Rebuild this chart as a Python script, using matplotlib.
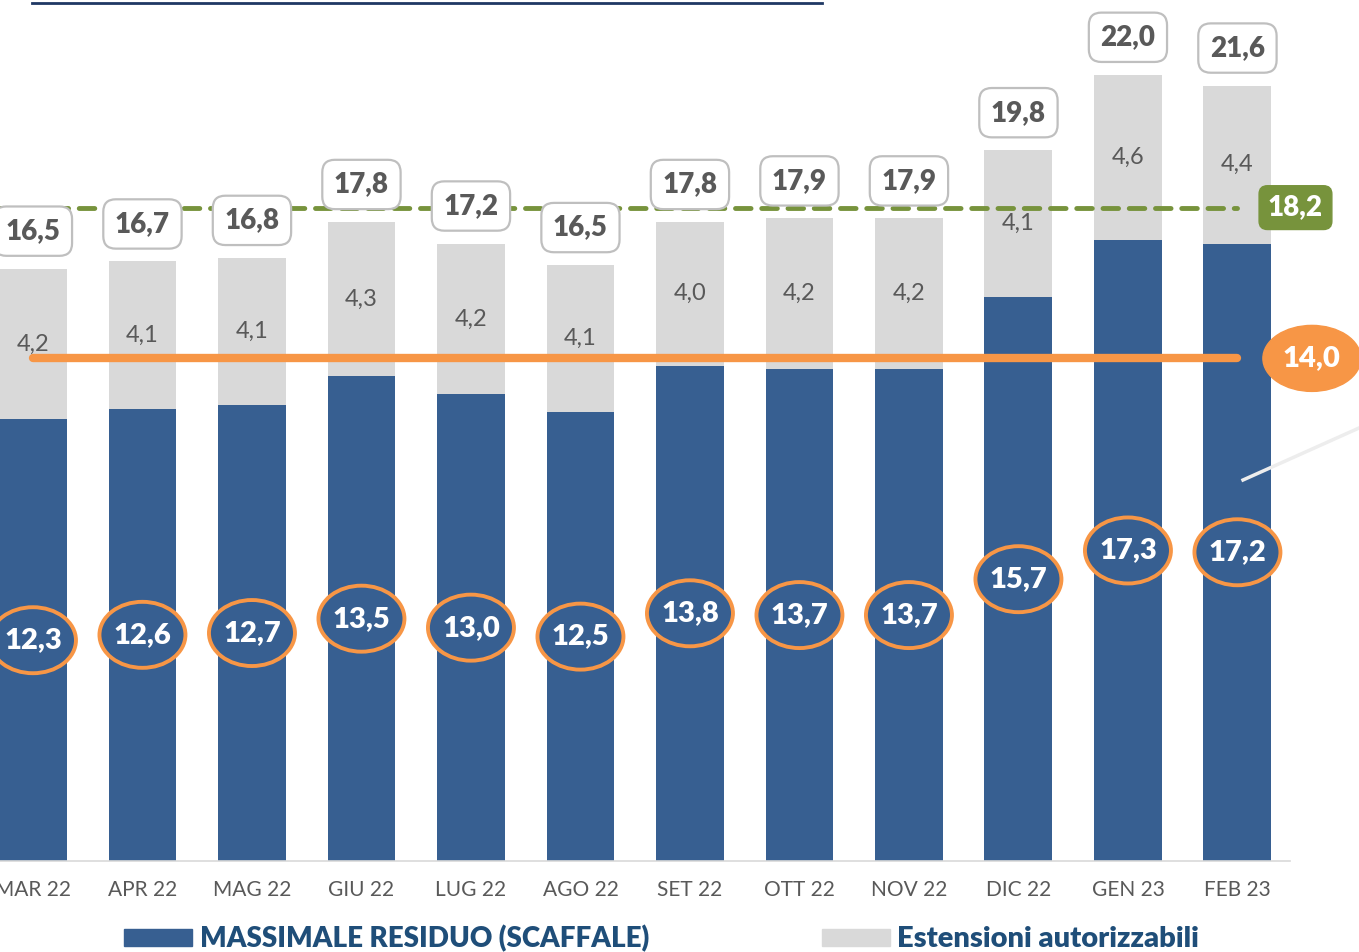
import numpy as np
import matplotlib
matplotlib.use("Agg")
import matplotlib.pyplot as plt
from matplotlib.patches import Rectangle, Ellipse
from matplotlib.lines import Line2D

plt.rcParams['font.family'] = ['Lato', 'DejaVu Sans']

months = ['MAR 22', 'APR 22', 'MAG 22', 'GIU 22', 'LUG 22', 'AGO 22',
          'SET 22', 'OTT 22', 'NOV 22', 'DIC 22', 'GEN 23', 'FEB 23']
massimale = [12.3, 12.6, 12.7, 13.5, 13.0, 12.5, 13.8, 13.7, 13.7, 15.7, 17.3, 17.2]
estensioni = [4.2, 4.1, 4.1, 4.3, 4.2, 4.1, 4.0, 4.2, 4.2, 4.1, 4.6, 4.4]
totale = [16.5, 16.7, 16.8, 17.8, 17.2, 16.5, 17.8, 17.9, 17.9, 19.8, 22.0, 21.6]
soglia_arancio = 14.0
soglia_verde = 18.2

blue = '#375F91'
grey = '#D9D9D9'
orange = '#F79646'
green = '#77933C'
txt_grey = '#595959'
navy = '#1F4E79'
heavy = 'heavy'

def fmt(v):
    return f"{v:.1f}".replace('.', ',')

W, H = 1359, 952
px_x = 109.5   # pixels per category
px_y = 35.9    # pixels per unit
fig = plt.figure(figsize=(W / 100, H / 100), dpi=100)
ax = fig.add_axes([0, 91 / H, 1290 / W, 861 / H])

x = np.arange(len(months))
ax.bar(x, massimale, width=0.62, color=blue, zorder=2)
ax.bar(x, estensioni, bottom=massimale, width=0.62, color=grey, zorder=2)

ax.set_xlim(-0.301, 11.48)
ax.set_ylim(0, 861 / px_y)
for s in ['top', 'right', 'left']:
    ax.spines[s].set_visible(False)
ax.spines['bottom'].set_color('#D9D9D9')
ax.spines['bottom'].set_linewidth(1.2)
ax.set_yticks([])
ax.set_xticks(x)
ax.set_xticklabels(months, fontsize=15, color=txt_grey)
ax.tick_params(axis='x', length=0, pad=14)

# reference lines
ax.plot([0, x[-1]], [soglia_arancio] * 2, color=orange, lw=6, solid_capstyle='round', zorder=3)
ax.plot([-0.3, x[-1]], [soglia_verde] * 2, color=green, lw=3.5, ls=(0, (3.2, 2.2)),
        dash_capstyle='round', zorder=3)

ax.add_patch(Ellipse((x[-1] + 0.68, soglia_arancio), 98 / px_x, 66 / px_y, fc=orange,
                     ec=orange, zorder=5, clip_on=False))
ax.text(x[-1] + 0.68, soglia_arancio, fmt(soglia_arancio), ha='center', va='center',
        fontsize=21, fontweight=heavy, color='white', zorder=6, clip_on=False)
ax.text(x[-1] + 0.53, soglia_verde, fmt(soglia_verde), ha='center', va='center',
        fontsize=20, fontweight=heavy, color='white', zorder=6, clip_on=False,
        bbox=dict(boxstyle='round,pad=0.32,rounding_size=0.3', fc=green, ec=green))

for i in x:
    # blue value in orange ellipse
    yc = massimale[i] / 2
    ax.add_patch(Ellipse((i, yc), 86 / px_x, 66 / px_y, fc=blue, ec=orange, lw=2.8,
                         zorder=4, clip_on=False))
    ax.text(i, yc, fmt(massimale[i]), ha='center', va='center',
            fontsize=21, fontweight=heavy, color='white', zorder=5)
    # grey segment value
    ax.text(i, massimale[i] + estensioni[i] / 2, fmt(estensioni[i]), ha='center', va='center',
            fontsize=17, color=txt_grey, zorder=5)
    # total box
    ax.annotate(fmt(totale[i]), (i, massimale[i] + estensioni[i]), xytext=(0, 27),
                textcoords='offset points', ha='center', va='center',
                fontsize=20, fontweight=heavy, color=txt_grey, zorder=5,
                bbox=dict(boxstyle='round,pad=0.42,rounding_size=0.45', fc='white',
                          ec='#BFBFBF', lw=1.6))

# faint connector line at right
fig.add_artist(Line2D([1243 / W, 1.0], [1 - 480 / H, 1 - 428 / H], color='#EDEDED', lw=2.5))
# cut title underline at top
fig.add_artist(Line2D([32 / W, 822 / W], [1 - 3 / H, 1 - 3 / H], color='#1F3864', lw=2))

# legend
fig.add_artist(Rectangle((124 / W, 1 - 946 / H), 68 / W, 17 / H, color=blue,
                         transform=fig.transFigure))
fig.text(200 / W, 1 - 947 / H, 'MASSIMALE RESIDUO (SCAFFALE)', fontsize=20,
         fontweight=heavy, color=navy, va='baseline')
fig.add_artist(Rectangle((822 / W, 1 - 946 / H), 68 / W, 17 / H, color=grey,
                         transform=fig.transFigure))
fig.text(897 / W, 1 - 947 / H, 'Estensioni autorizzabili', fontsize=21,
         fontweight=heavy, color=navy, va='baseline')

fig.savefig('out.png', dpi=100)
